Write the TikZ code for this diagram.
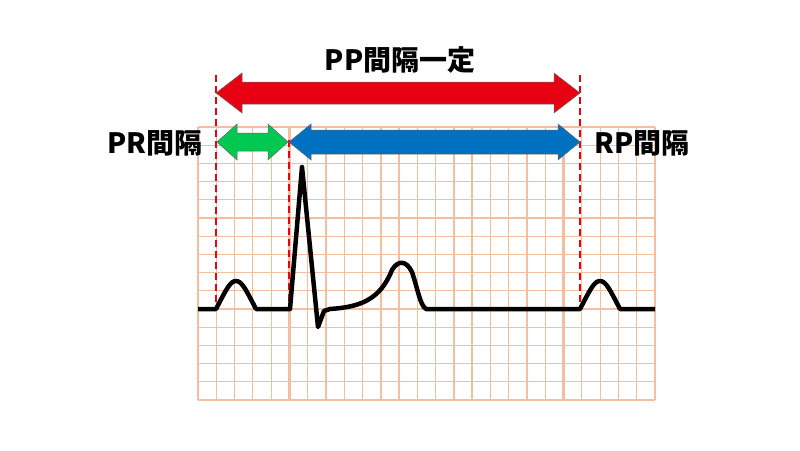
\documentclass[tikz,border=0pt]{standalone}
\usepackage{fontspec}
\setmainfont{Noto Sans CJK JP}
\usetikzlibrary{positioning,calc}

\definecolor{gridpink}{RGB}{244,190,160}
\definecolor{arrowred}{RGB}{230,0,18}
\definecolor{arrowgreen}{RGB}{0,200,80}
\definecolor{arrowblue}{RGB}{0,112,192}

% double-headed block arrow: x1, x2, y, half shaft, half head, head length, colour
\newcommand{\blockarrow}[7]{%
  \filldraw[fill=#7,draw=black!60,line width=0.5pt]
    (#1,#3) -- ++(#6,-#5) -- ++(0,#5-#4) -- (#2-#6,#3-#4) -- ++(0,#4-#5)
    -- (#2,#3) -- ++(-#6,#5) -- ++(0,#4-#5) -- (#1+#6,#3+#4) -- ++(0,#5-#4) -- cycle;}

\tikzset{
  minor/.style={gridpink,line width=1.2pt},
  major/.style={gridpink,line width=2.4pt},
  ecg/.style={black,line width=4.5pt,line join=round},
  marker/.style={arrowred,line width=1.8pt,dash pattern=on 7pt off 4pt},
  label/.style={font=\bfseries\fontsize{28}{28}\selectfont}
}

\begin{document}
\begin{tikzpicture}[x=1pt,y=-1pt]
  \useasboundingbox (0,0) rectangle (800,450);

  % Grid
  \foreach \i in {0,...,25}
    \draw[minor] (198+\i*18.28,127) -- (198+\i*18.28,400);
  \foreach \j in {0,...,15}
    \draw[minor] (198,127+\j*18.2) -- (655,127+\j*18.2);
  \foreach \i in {0,...,5}
    \draw[major] (198+\i*91.4,127) -- (198+\i*91.4,400);
  \foreach \j in {0,...,3}
    \draw[major] (198,127+\j*91) -- (655,127+\j*91);

  % Markers
  \draw[marker] (216,75) -- (216,309);
  \draw[marker] (580,75) -- (580,309);
  \draw[marker] (289,140) -- (289,309);

  % ECG trace
  \draw[ecg] (198,309) -- (216,309)
    .. controls (226,290) and (230,281) .. (236,281)
    .. controls (242,281) and (246,290) .. (256,309)
    -- (290,309) -- (302,167) -- (318,327) -- (324,311) -- (330,309)
    .. controls (360,307) and (380,300) .. (392,270)
    .. controls (398,260) and (406,260) .. (412,272)
    .. controls (418,290) and (420,305) .. (426,309)
    -- (580,309)
    .. controls (590,290) and (594,281) .. (600,281)
    .. controls (606,281) and (610,290) .. (620,309)
    -- (655,309);

  % Arrows
  \blockarrow{216}{580}{93}{11}{20}{26}{arrowred}
  \blockarrow{217}{288}{142}{9}{18}{20}{arrowgreen}
  \blockarrow{289}{580}{142}{12}{18}{22}{arrowblue}

  % Labels
  \node[label] (pp) at (400,60) {PP間隔一定};
  \node[label] (pr) at (155,143) {PR間隔};
  \node[label] (rp) at (642,143) {RP間隔};
\end{tikzpicture}
\end{document}
